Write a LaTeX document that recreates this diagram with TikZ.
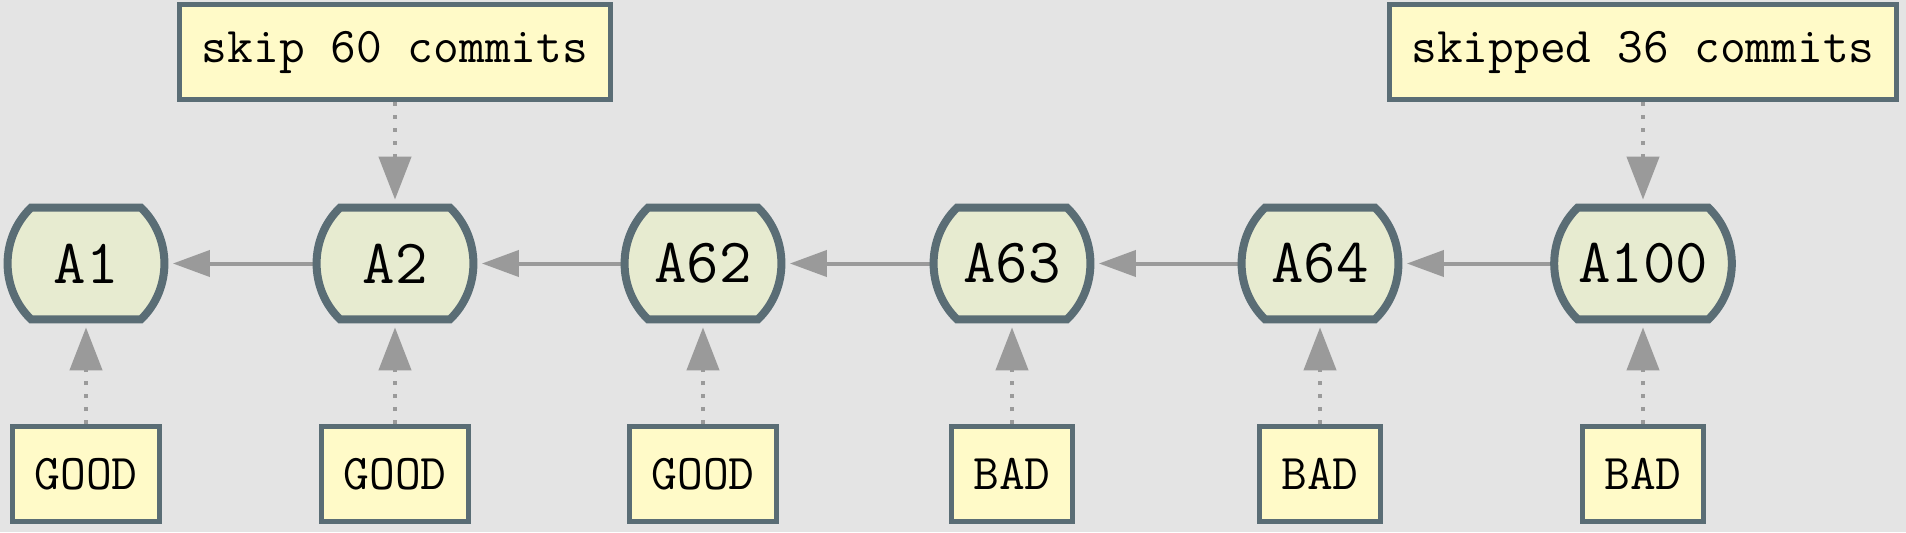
\documentclass[tikz,border=0pt]{standalone}
\usetikzlibrary{arrows.meta}
\definecolor{bgc}{HTML}{E4E4E4}
\definecolor{boxc}{HTML}{FFFAC8}
\definecolor{nodec}{HTML}{E7EBD0}
\definecolor{bordc}{HTML}{5A6D75}
\definecolor{edgec}{HTML}{9A9A9A}
\pgfdeclarelayer{bg}
\pgfdeclarelayer{edges}
\pgfdeclarelayer{shapes}
\pgfsetlayers{bg,edges,shapes,main}
\begin{document}
\begin{tikzpicture}[x=1pt,y=1pt,
  commit/.style={rectangle, minimum width=78.5pt, minimum height=55.5pt, inner xsep=12pt,
    font=\fontsize{31.5}{36}\selectfont\ttfamily},
  commitshape/.style={fill=nodec, draw=bordc, line width=4pt, line join=miter},
  lbl/.style={rectangle, draw=bordc, fill=boxc, line width=2.5pt, inner xsep=11pt,
    minimum height=47.5pt, font=\fontsize{25}{30}\selectfont\ttfamily},
  hedge/.style={draw=edgec, line width=2pt, shorten >=4pt,
    -{Triangle[length=18.5pt,width=13pt]}},
  vedge/.style={draw=edgec, line width=2.2pt, dash pattern=on 2pt off 4.5pt, shorten >=4pt,
    -{Triangle[length=21.5pt,width=16pt]}}
]
\begin{pgfonlayer}{bg}
\fill[bgc] (0,0) rectangle (953,266);
\end{pgfonlayer}
\useasboundingbox (0,0) rectangle (953,266);

\node[commit] (a1)   at (43,134.25)    {A1};
\node[commit] (a2)   at (197.5,134.25) {A2};
\node[commit] (a62)  at (351.5,134.25) {A62};
\node[commit] (a63)  at (506,134.25)   {A63};
\node[commit] (a64)  at (660,134.25)   {A64};
\node[commit] (a100) at (821.5,134.25) {A100};

\begin{pgfonlayer}{shapes}
\foreach \n in {a1,a2,a62,a63,a64,a100}{
  \filldraw[commitshape] ([xshift=12pt]\n.north west) -- ([xshift=-12pt]\n.north east)
    to[bend left=46] ([xshift=-12pt]\n.south east) -- ([xshift=12pt]\n.south west)
    to[bend left=46] ([xshift=12pt]\n.north west) -- cycle;
}
\end{pgfonlayer}

\node[lbl] (t1) at (197.5,240) {skip 60 commits};
\node[lbl] (t2) at (821.5,240) {skipped 36 commits};

\node[lbl] (g1) at (43,29)    {GOOD};
\node[lbl] (g2) at (197.5,29) {GOOD};
\node[lbl] (g3) at (351.5,29) {GOOD};
\node[lbl] (b1) at (506,29)   {BAD};
\node[lbl] (b2) at (660,29)   {BAD};
\node[lbl] (b3) at (821.5,29) {BAD};

\begin{pgfonlayer}{edges}
\draw[hedge] (a2.west) -- (a1.east);
\draw[hedge] (a62.west) -- (a2.east);
\draw[hedge] (a63.west) -- (a62.east);
\draw[hedge] (a64.west) -- (a63.east);
\draw[hedge] (a100.west) -- (a64.east);
\draw[vedge] (t1.south) -- (a2.north);
\draw[vedge] (t2.south) -- (a100.north);
\draw[vedge] (g1.north) -- (a1.south);
\draw[vedge] (g2.north) -- (a2.south);
\draw[vedge] (g3.north) -- (a62.south);
\draw[vedge] (b1.north) -- (a63.south);
\draw[vedge] (b2.north) -- (a64.south);
\draw[vedge] (b3.north) -- (a100.south);
\end{pgfonlayer}
\end{tikzpicture}
\end{document}
